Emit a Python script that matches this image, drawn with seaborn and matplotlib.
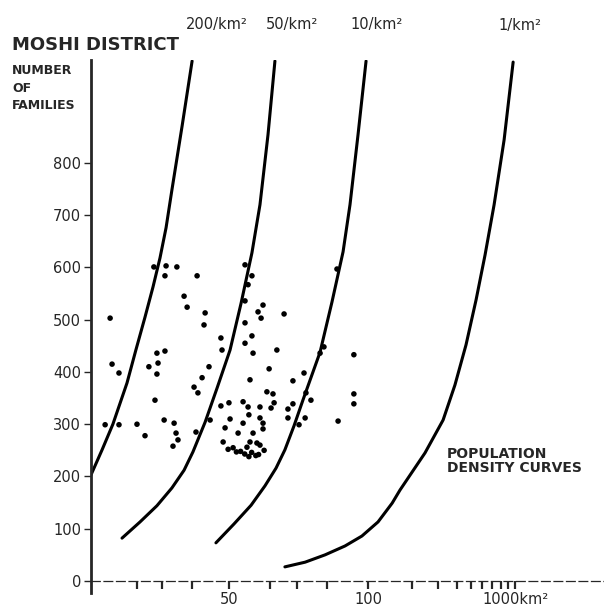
import numpy as np
import pandas as pd
import matplotlib
matplotlib.use("Agg")
import matplotlib.pyplot as plt
import seaborn as sns

# points: area (km2) and number of families
c200_x = [0.0, 4.0, 7.9, 13.0, 16.2, 19.5, 22.4, 24.9, 27.1, 29.2, 32.9, 36.5]
c200_y = [203, 251, 300, 379, 442, 505, 563, 618, 676, 748, 871, 995]
c50_x = [11.2, 17.7, 23.8, 29.2, 33.6, 36.8, 41.2, 45.5, 50.2, 54.2, 58.1, 61.0, 63.9, 66.4]
c50_y = [82, 113, 144, 178, 212, 247, 304, 369, 442, 532, 628, 720, 854, 995]
c10_x = [45.1, 51.6, 57.8, 62.8, 66.8, 70.0, 73.3, 76.5, 82.7, 87.0, 91.0, 93.5, 96.4, 99.3]
c10_y = [73, 109, 145, 182, 216, 251, 297, 346, 438, 534, 630, 720, 854, 995]
c1_x = [70.0, 77.3, 84.5, 91.7, 97.8, 117, 146, 165, 244, 324, 390, 464, 543, 625, 720, 842, 970]
c1_y = [27, 36, 50, 67, 86, 113, 149, 174, 245, 308, 375, 452, 538, 624, 720, 844, 993]
curve_labels = ["200/km²", "50/km²", "10/km²", "1/km²"]

# villages: area and number of families
dots_x = [6.9, 7.6, 10.1, 5.1, 10.1, 16.6, 19.5, 22.7, 27.1, 31.0, 26.7, 38.3,
          33.6, 34.7, 23.8, 26.7, 24.2, 20.9, 23.8, 37.2, 38.6, 23.1, 26.4,
          30.0, 30.7, 31.4, 29.6, 37.9,
          55.6, 58.1, 56.7, 55.6, 62.1, 60.3, 61.4, 69.7, 41.2, 40.8, 55.6,
          58.1, 46.9, 55.6, 47.3, 58.5, 67.1, 42.6, 64.3, 40.1, 57.4, 72.9,
          76.9, 88.8, 94.9, 94.9, 94.9, 89.2, 63.5, 65.7, 66.1, 65.0, 61.0,
          56.7, 54.9, 49.8, 46.9, 57.0, 61.0, 62.1, 50.2, 54.9, 48.4, 43.0,
          58.5, 53.1, 62.1, 71.1, 72.9, 71.1, 77.3, 75.1, 79.4, 77.6, 82.7,
          84.1, 57.4, 59.9, 61.0, 56.3, 47.7, 51.3,
          54.0, 55.5, 58.0, 60.5, 62.5, 52.5, 49.5, 57.0, 59.5]
dots_y = [503, 415, 398, 299, 299, 300, 278, 601, 603, 601, 584, 584,
          545, 524, 436, 440, 417, 410, 396, 371, 360, 346, 308,
          302, 283, 270, 258, 285,
          605, 584, 567, 536, 528, 515, 503, 511, 513, 490, 494,
          469, 465, 455, 442, 436, 442, 410, 406, 389, 385, 383,
          398, 597, 433, 358, 339, 306, 362, 358, 341, 331, 333,
          333, 343, 341, 335, 318, 312, 302, 310, 302, 293, 308,
          283, 283, 291, 329, 339, 312, 312, 299, 346, 360, 436,
          448, 266, 264, 260, 256, 266, 255,
          248, 243, 246, 242, 250, 247, 252, 238, 240]

x_ticks = [50, 100, 1000]
x_ticklabels = ["50", "100", "1000km²"]
x_minor = [16.6, 25.6, 36.5, 64.6, 74.4, 85.2, 200, 300, 400, 500, 600, 700, 800, 900]
y_ticks = [0, 100, 200, 300, 400, 500, 600, 700, 800]

DEC = 53.1  # width of one decade after 100, in linear units


def fwd(x):
    x = np.asarray(x, dtype=float)
    return np.where(x <= 100, x, 100 + DEC * np.log10(np.maximum(x, 100) / 100))


def inv(t):
    t = np.asarray(t, dtype=float)
    return np.where(t <= 100, t, 100 * 10 ** ((np.maximum(t, 100) - 100) / DEC))


sns.set_style("white")
plt.rcParams["font.family"] = ["DejaVu Sans"]

fig = plt.figure(figsize=(6.04, 6.12), dpi=100)
ax = fig.add_axes([91 / 604, 19 / 612, 513 / 604, 533 / 612])
ax.set_xscale("function", functions=(fwd, inv))

curves = [(c200_x, c200_y), (c50_x, c50_y), (c10_x, c10_y), (c1_x, c1_y)]
offsets = [25, 17, 11, 7]
for (cx, cy), lab, off in zip(curves, curve_labels, offsets):
    sns.lineplot(x=cx, y=cy, ax=ax, color="black", lw=2.2, sort=False)
    ax.annotate(lab, xy=(cx[-1], cy[-1]), xytext=(off, 32), textcoords="offset pixels",
                ha="center", va="baseline", fontsize=10.5)

sns.scatterplot(x=dots_x, y=dots_y, ax=ax, color="black", s=16, edgecolor="none")

ax.set_xlim(0, float(inv(185.2)))
ax.set_ylim(-23, 997)

ax.spines["top"].set_visible(False)
ax.spines["right"].set_visible(False)
ax.spines["left"].set_linewidth(2.0)
ax.spines["bottom"].set_position(("data", 0))
ax.spines["bottom"].set_linewidth(0.9)
ax.spines["bottom"].set_linestyle((0, (7, 3)))

ax.set_yticks(y_ticks)
ax.set_xticks(x_ticks)
ax.set_xticklabels(x_ticklabels)
ax.set_xticks(x_minor, minor=True)
ax.tick_params(axis="y", direction="out", length=5, width=1, pad=2, labelsize=10.5, left=True)
ax.tick_params(axis="x", which="both", direction="out", length=6, width=1.6, pad=2,
               labelsize=10.5, bottom=True)
ax.set_xlabel("")
ax.set_ylabel("")

fig.text(12 / 604, 1 - 50 / 612, "MOSHI DISTRICT", fontsize=13, fontweight="bold", va="baseline")
fig.text(12 / 604, 1 - 64 / 612, "NUMBER\nOF\nFAMILIES", fontsize=9, fontweight="bold",
         va="top", linespacing=1.45)
fig.text(447 / 604, 1 - 447 / 612, "POPULATION\nDENSITY CURVES", fontsize=10,
         fontweight="bold", va="top", linespacing=1.0)

fig.savefig("out.png", dpi=100)
